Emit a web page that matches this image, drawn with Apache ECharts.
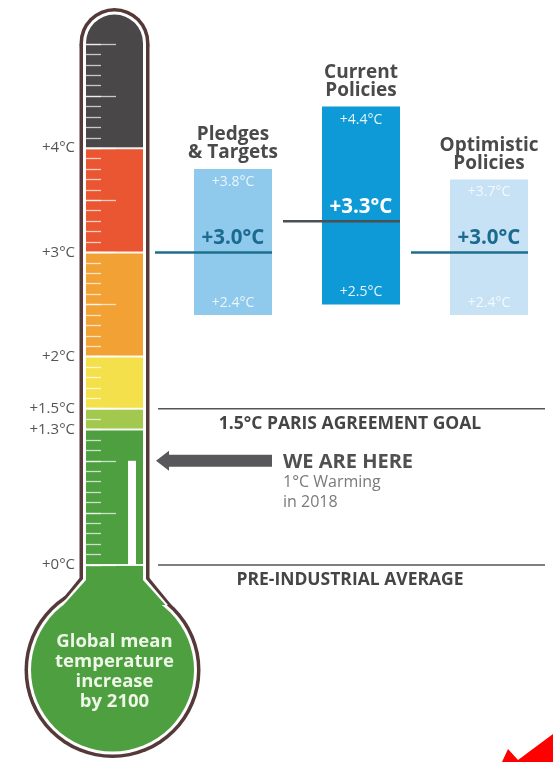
<!DOCTYPE html>
<html>
<head>
<meta charset="utf-8">
<script src="https://cdn.jsdelivr.net/npm/echarts/dist/echarts.min.js"></script>
<style>
  html, body { margin: 0; padding: 0; background: #ffffff; }
  #chart { width: 553px; height: 762px; }
</style>
</head>
<body>
<div id="chart"></div>
<script>
// ---------- data ----------
const scenarios = ['Pledges\n& Targets', 'Current\nPolicies', 'Optimistic\nPolicies'];
const scenarioLow = [2.4, 2.5, 2.4];
const scenarioHigh = [3.8, 4.4, 3.7];
const scenarioMedian = [3.0, 3.3, 3.0];

const bandEdges = [0, 1.3, 1.5, 2, 3, 4, 5];
const tickLabels = [0, 1.3, 1.5, 2, 3, 4];

const currentWarming = 1.0;
const referenceLevels = [1.5, 0];
const referenceNames = ['1.5°C PARIS AGREEMENT GOAL', 'PRE-INDUSTRIAL AVERAGE'];
const hereTitle = 'WE ARE HERE';
const hereNote = '1°C Warming\nin 2018';
const bulbText = 'Global mean\ntemperature\nincrease\nby 2100';

// ---------- styles ----------
const FONT = '"Open Sans", "Noto Sans", sans-serif';
const bandColors = ['#4e9f40', '#a2c84e', '#f4e04b', '#f2a234', '#ea5631', '#494747'];
const frameColor = '#553838';
const barFill = ['#8fc9ec', '#0e9ad6', '#c7e2f4'];
const medianLabelColor = ['#1b6a8f', '#ffffff', '#1b6a8f'];
const medianLineColor = ['#1e6f8e', '#4a5054', '#1e6f8e'];
const rangeLabelColor = ['rgba(255,255,255,0.82)', '#e6f5fc', 'rgba(255,255,255,0.8)'];

function fmtTick(v) { return '+' + v + '°C'; }
function fmtVal(v) { return '+' + v.toFixed(1) + '°C'; }

const chart = echarts.init(document.getElementById('chart'), null, { renderer: 'canvas' });

const GRID_TOP = 44, GRID_H = 521;

const option = {
  animation: false,
  backgroundColor: '#ffffff',
  grid: [
    { left: 86, width: 57, top: GRID_TOP, height: GRID_H },
    { left: 169, width: 400, top: GRID_TOP, height: GRID_H },
    { left: 86, width: 57, top: GRID_TOP, height: GRID_H }
  ],
  xAxis: [
    { gridIndex: 0, type: 'value', min: 0, max: 1, show: false },
    { gridIndex: 1, type: 'category', data: scenarios, show: false },
    { gridIndex: 2, type: 'value', min: 0, max: 1, show: false }
  ],
  yAxis: [
    {
      gridIndex: 0, type: 'value', min: 0, max: 5, interval: 0.1, position: 'left', z: 10,
      axisLine: { show: false }, splitLine: { show: false },
      axisTick: { show: true, inside: true, length: 15, lineStyle: { color: 'rgba(255,255,255,0.7)', width: 1.3 } },
      axisLabel: {
        interval: 0, margin: 11, showMinLabel: true, showMaxLabel: true,
        color: '#555555', fontSize: 15, fontFamily: FONT,
        formatter: function (v) {
          const t = tickLabels.find(function (x) { return Math.abs(x - v) < 1e-6; });
          return t === undefined ? '' : fmtTick(t);
        }
      }
    },
    { gridIndex: 1, type: 'value', min: 0, max: 5, show: false },
    {
      gridIndex: 2, type: 'value', min: 0, max: 5, interval: 0.5, position: 'left', z: 10,
      axisLine: { show: false }, splitLine: { show: false }, axisLabel: { show: false },
      axisTick: { show: true, inside: true, length: 30, lineStyle: { color: 'rgba(255,255,255,0.7)', width: 1.3 } }
    }
  ],
  graphic: [
    {
      type: 'polygon', z: 100,
      shape: { points: [[502, 762], [508, 749], [518, 760], [553, 734], [553, 762]] },
      style: { fill: '#ff0000' }
    }
  ],
  series: [
    // thermometer frame + bulb
    {
      type: 'custom', xAxisIndex: 0, yAxisIndex: 0, z: 1, clip: false, silent: true,
      data: [[0, 0]],
      renderItem: function (params, api) {
        const cs = params.coordSys;
        const cx = cs.x + cs.width / 2;
        const topY = api.coord([0, 5])[1];
        const y0 = api.coord([0, 0])[1];
        const bx = cx - 2, by = y0 + 105;
        const neckA = y0 + 13, neckB = y0 + 40;
        function layer(d, color) {
          const hw = 35 - d;
          return [
            { type: 'rect', shape: { x: cx - hw, y: topY, width: hw * 2, height: neckB - topY - 5 }, style: { fill: color } },
            { type: 'circle', shape: { cx: cx, cy: topY - 1, r: hw }, style: { fill: color } },
            { type: 'polygon', shape: { points: [[cx - hw, neckA + d * 0.3], [cx + hw, neckA + d * 0.3], [cx + 57 - d, neckB], [cx - 57 + d, neckB]] }, style: { fill: color } },
            { type: 'circle', shape: { cx: bx, cy: by, r: 88 - d }, style: { fill: color } }
          ];
        }
        const fillHw = cs.width / 2;
        const green = bandColors[0];
        const children = [].concat(
          layer(0, frameColor),
          layer(3.5, '#ffffff'),
          [
            { type: 'rect', shape: { x: cx - fillHw, y: y0, width: fillHw * 2, height: neckA - y0 + 5 }, style: { fill: green } },
            { type: 'polygon', shape: { points: [[cx - fillHw, neckA + 2], [cx + fillHw, neckA + 2], [cx + 51, neckB], [cx - 51, neckB]] }, style: { fill: green } },
            { type: 'circle', shape: { cx: bx, cy: by, r: 81.5 }, style: { fill: green } },
            { type: 'text', style: { text: bulbText, x: cx, y: by + 2, align: 'center', verticalAlign: 'middle', lineHeight: 20, fill: '#eef6e8', fontSize: 18.5, fontWeight: 'bold', fontFamily: FONT } }
          ]
        );
        return { type: 'group', children: children };
      }
    },
    // colour bands
    {
      type: 'custom', xAxisIndex: 0, yAxisIndex: 0, z: 2, clip: false, silent: true,
      data: bandEdges.slice(0, -1).map(function (lo, i) { return [i, lo, bandEdges[i + 1]]; }),
      renderItem: function (params, api) {
        const cs = params.coordSys;
        const i = api.value(0);
        const loY = api.coord([0, api.value(1)])[1];
        const hiY = api.coord([0, api.value(2)])[1];
        const children = [
          { type: 'rect', shape: { x: cs.x, y: hiY, width: cs.width, height: loY - hiY }, style: { fill: bandColors[i] } }
        ];
        if (i === bandEdges.length - 2) {
          children.push({ type: 'circle', shape: { cx: cs.x + cs.width / 2, cy: hiY - 1, r: cs.width / 2 }, style: { fill: bandColors[i] } });
        }
        children.push({ type: 'rect', shape: { x: cs.x, y: loY - 1, width: cs.width, height: 2 }, style: { fill: 'rgba(255,255,255,0.9)' } });
        return { type: 'group', children: children };
      }
    },
    // current warming column
    {
      type: 'custom', xAxisIndex: 0, yAxisIndex: 0, z: 3, clip: false, silent: true,
      data: [[0, 0, currentWarming]],
      renderItem: function (params, api) {
        const cs = params.coordSys;
        const loY = api.coord([0, api.value(1)])[1];
        const hiY = api.coord([0, api.value(2)])[1];
        return { type: 'rect', shape: { x: cs.x + 42, y: hiY, width: 8, height: loY - hiY }, style: { fill: '#ffffff' } };
      }
    },
    // scenario bars
    {
      type: 'custom', xAxisIndex: 1, yAxisIndex: 1, z: 4, clip: false, silent: true,
      data: scenarios.map(function (s, i) { return [i, scenarioLow[i], scenarioHigh[i], scenarioMedian[i]]; }),
      renderItem: function (params, api) {
        const i = api.value(0);
        const lo = api.coord([i, api.value(1)]);
        const hi = api.coord([i, api.value(2)]);
        const md = api.coord([i, api.value(3)]);
        const cx = lo[0], w = 78;
        return {
          type: 'group', children: [
            { type: 'rect', shape: { x: cx - w / 2, y: hi[1], width: w, height: lo[1] - hi[1] }, style: { fill: barFill[i] } },
            { type: 'line', shape: { x1: cx - w, y1: md[1], x2: cx + w / 2, y2: md[1] }, style: { stroke: medianLineColor[i], lineWidth: 2.5 } },
            { type: 'text', style: { text: fmtVal(api.value(2)), x: cx, y: hi[1] + 13, align: 'center', verticalAlign: 'middle', fill: rangeLabelColor[i], fontSize: 14, fontFamily: FONT } },
            { type: 'text', style: { text: fmtVal(api.value(1)), x: cx, y: lo[1] - 12, align: 'center', verticalAlign: 'middle', fill: rangeLabelColor[i], fontSize: 14, fontFamily: FONT } },
            { type: 'text', style: { text: fmtVal(api.value(3)), x: cx, y: md[1] - 14, align: 'center', verticalAlign: 'middle', fill: medianLabelColor[i], fontSize: 20.5, fontWeight: 'bold', fontFamily: FONT } },
            { type: 'text', style: { text: scenarios[i], x: cx, y: hi[1] - 7, align: 'center', verticalAlign: 'bottom', lineHeight: 18, fill: '#4a4a4a', fontSize: 19, fontWeight: 'bold', fontFamily: FONT } }
          ]
        };
      }
    },
    // reference lines
    {
      type: 'custom', xAxisIndex: 1, yAxisIndex: 1, z: 4, clip: false, silent: true,
      data: referenceLevels.map(function (v, i) { return [i, v]; }),
      renderItem: function (params, api) {
        const i = api.value(0);
        const y = api.coord([0, api.value(1)])[1];
        return {
          type: 'group', children: [
            { type: 'line', shape: { x1: 158, y1: y, x2: 545, y2: y }, style: { stroke: '#555555', lineWidth: 1.5 } },
            { type: 'text', style: { text: referenceNames[i], x: 350, y: y + 15, align: 'center', verticalAlign: 'middle', fill: '#454545', fontSize: 17.5, fontWeight: 'bold', fontFamily: FONT } }
          ]
        };
      }
    },
    // we are here arrow
    {
      type: 'custom', xAxisIndex: 1, yAxisIndex: 1, z: 4, clip: false, silent: true,
      data: [[0, currentWarming]],
      renderItem: function (params, api) {
        const y = api.coord([0, api.value(1)])[1];
        return {
          type: 'group', children: [
            { type: 'polygon', shape: { points: [[156, y], [169, y - 10], [169, y - 6], [272, y - 6], [272, y + 6], [169, y + 6], [169, y + 10]] }, style: { fill: '#58585a' } },
            { type: 'text', style: { text: hereTitle, x: 283, y: y + 1, align: 'left', verticalAlign: 'middle', fill: '#505050', fontSize: 20, fontWeight: 'bold', fontFamily: FONT } },
            { type: 'text', style: { text: hereNote, x: 283, y: y + 12, align: 'left', verticalAlign: 'top', lineHeight: 20, fill: '#7a7a7a', fontSize: 16, fontFamily: FONT } }
          ]
        };
      }
    }
  ]
};

chart.setOption(option);
</script>
</body>
</html>
